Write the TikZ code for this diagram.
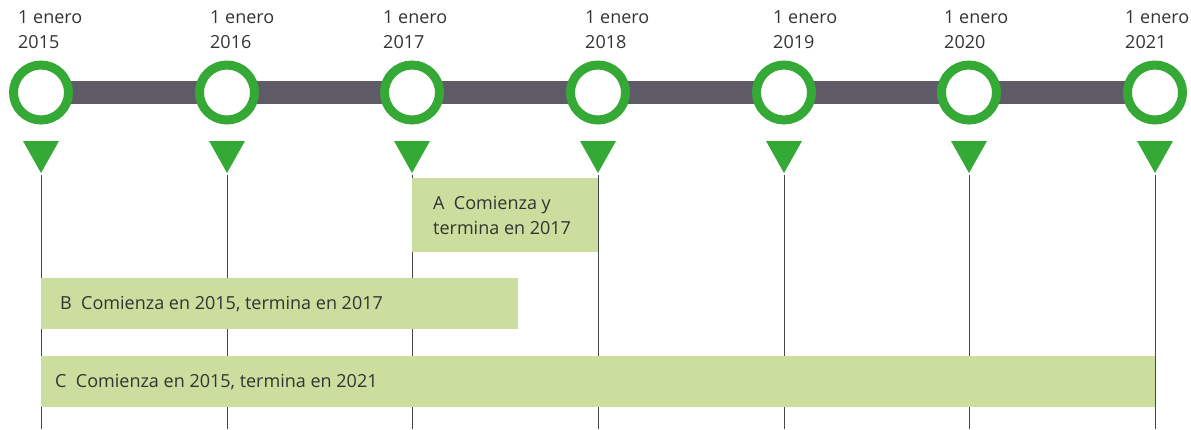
\documentclass[tikz,border=0pt]{standalone}
\usepackage{fontspec}
\setmainfont{Open Sans}
\definecolor{ring}{HTML}{34A936}
\definecolor{bar}{HTML}{5F5B66}
\definecolor{boxg}{HTML}{CBDE9E}
\definecolor{txt}{HTML}{333333}
\begin{document}
\begin{tikzpicture}[x=1pt,y=-1pt,
  lbl/.style={anchor=north west,align=left,font=\fontsize{18}{25}\selectfont,text=txt,inner sep=0pt},
  ringnode/.style={circle,draw=ring,line width=9pt,fill=white,minimum size=55pt,inner sep=0pt},
  tri/.style={fill=ring,draw=none},
  vline/.style={draw=txt!90,line width=0.9pt},
  bar/.style={fill=bar,draw=none},
  boxtxt/.style={font=\fontsize{18}{25}\selectfont,text=txt,inner sep=0pt,align=left}]
\useasboundingbox (0,0) rectangle (1191,429);
\def\xs{41/2015/18,227/2016/210,412/2017/383,598/2018/585,784/2019/773,969/2020/944,1155/2021/1125}
% vertical lines
\foreach \x/\y/\t in \xs {
  \coordinate (top\y) at (\x,175);
  \coordinate (bot\y) at (\x,429);
  \draw[vline] (top\y) -- (bot\y);
}
% bar
\fill[bar] (41,81) rectangle (1155,104);
% rings, triangles, labels
\foreach \x/\y/\t in \xs {
  \node[ringnode] (r\y) at (\x,92.5) {};
  \fill[tri] (\x-18,141) -- (\x+18,141) -- (\x,173) -- cycle;
  \node[lbl] (l\y) at (\t,10.5) {1 enero\\\y};
}
% boxes
\fill[boxg] (412,178) rectangle (598,252);
\node[boxtxt,anchor=north west] (ta) at (433,196) {A\ \ Comienza y\\termina en 2017};
\fill[boxg] (41,278) rectangle (518,329);
\node[boxtxt,anchor=west] (tb) at (60,304.5) {B\ \ Comienza en 2015, termina en 2017};
\fill[boxg] (41,356) rectangle (1155,407);
\node[boxtxt,anchor=west] (tc) at (55,382.5) {C\ \ Comienza en 2015, termina en 2021};
\end{tikzpicture}
\end{document}
